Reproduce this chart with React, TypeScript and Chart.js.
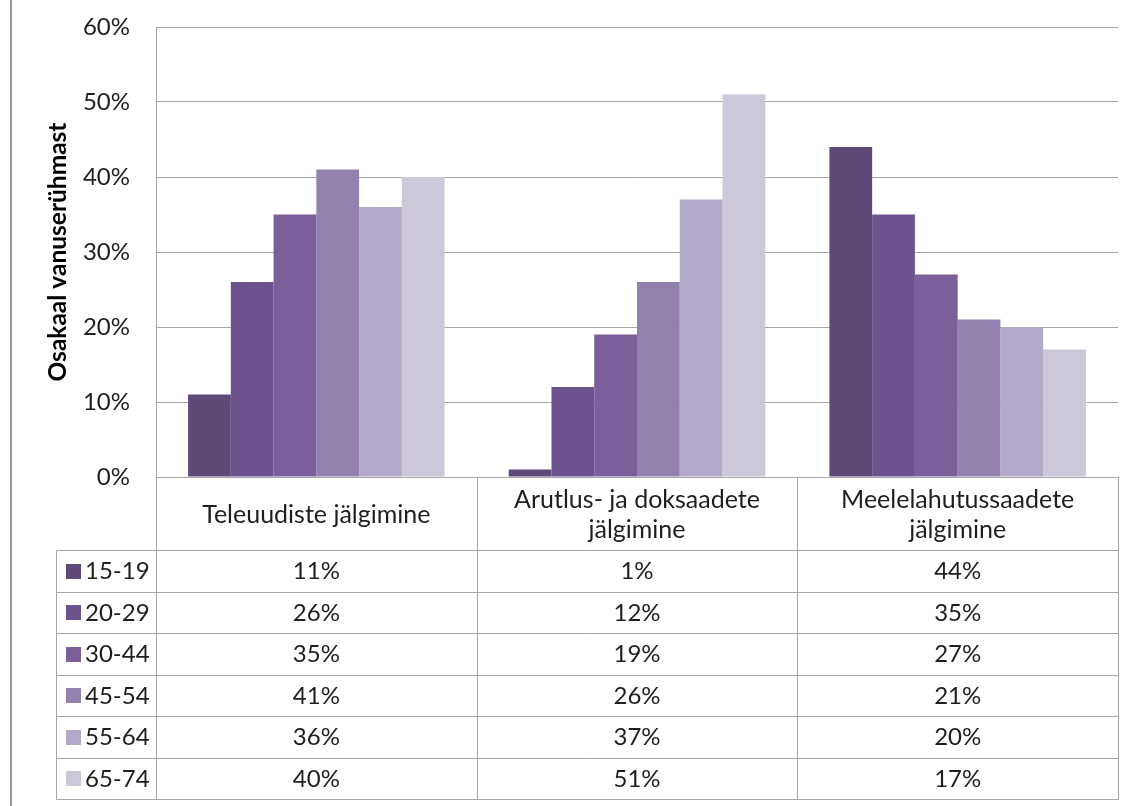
import React, { useEffect, useRef } from "react";
import { Chart, registerables } from "chart.js";

Chart.register(...registerables);

// ---- data ----
const categories: string[][] = [
  ["Teleuudiste jälgimine"],
  ["Arutlus- ja doksaadete", "jälgimine"],
  ["Meelelahutussaadete", "jälgimine"],
];
const ageGroups = ["15-19", "20-29", "30-44", "45-54", "55-64", "65-74"];
const values15to19 = [11, 1, 44];
const values20to29 = [26, 12, 35];
const values30to44 = [35, 19, 27];
const values45to54 = [41, 26, 21];
const values55to64 = [36, 37, 20];
const values65to74 = [40, 51, 17];
const seriesValues = [values15to19, values20to29, values30to44, values45to54, values55to64, values65to74];
const yMax = 60;
const yStep = 10;
const yTitle = "Osakaal vanuserühmast";

const colors = ["#5e4978", "#6c538e", "#7b5f9b", "#9382b0", "#b2a8c7", "#cdc7da"];

const FONT = "Lato, 'Noto Sans', sans-serif";
const TEXT = "#1e1e1e";
const LINE = "#a6a6a6";

const tablePlugin = {
  id: "dataTable",
  beforeDraw(chart: any) {
    const ctx = chart.ctx;
    ctx.save();
    ctx.fillStyle = "#ffffff";
    ctx.fillRect(0, 0, chart.width, chart.height);
    ctx.fillStyle = "#9a9a9a";
    ctx.fillRect(10, 0, 2, chart.height);
    ctx.restore();
  },
  afterDraw(chart: any) {
    const { ctx, chartArea } = chart;
    const x = chart.scales.x;
    const half = (x.getPixelForValue(1) - x.getPixelForValue(0)) / 2;
    const top = chartArea.bottom;
    const headerBottom = top + 73;
    const rowH = 41.5;
    const tableBottom = headerBottom + ageGroups.length * rowH;
    const legendLeft = 56;
    const right = chartArea.right;
    const px = (v: number) => Math.round(v) + 0.5;

    ctx.save();
    ctx.strokeStyle = LINE;
    ctx.lineWidth = 1;
    ctx.beginPath();
    for (let i = 0; i <= categories.length; i++) {
      const bx = px(x.getPixelForValue(i) - half);
      ctx.moveTo(bx, top);
      ctx.lineTo(bx, px(tableBottom));
    }
    for (let r = 0; r <= ageGroups.length; r++) {
      const ry = px(headerBottom + r * rowH);
      ctx.moveTo(legendLeft + 0.5, ry);
      ctx.lineTo(px(right), ry);
    }
    ctx.moveTo(legendLeft + 0.5, px(headerBottom));
    ctx.lineTo(legendLeft + 0.5, px(tableBottom));
    ctx.stroke();

    ctx.fillStyle = TEXT;
    ctx.font = `25px ${FONT}`;
    ctx.textAlign = "center";
    ctx.textBaseline = "middle";
    const headerMid = (top + headerBottom) / 2;
    categories.forEach((lines, i) => {
      const cx = x.getPixelForValue(i);
      const lh = 30;
      const y0 = headerMid - ((lines.length - 1) * lh) / 2;
      lines.forEach((t, k) => ctx.fillText(t, cx, y0 + k * lh + 1));
    });

    ctx.font = `24px ${FONT}`;
    ageGroups.forEach((g, r) => {
      const cy = headerBottom + r * rowH + rowH / 2;
      ctx.fillStyle = colors[r];
      ctx.fillRect(66, Math.round(cy - 7), 15, 15);
      ctx.fillStyle = TEXT;
      ctx.textAlign = "left";
      ctx.fillText(g, 85, cy + 1);
      ctx.textAlign = "center";
      seriesValues[r].forEach((v, i) => {
        ctx.fillText(v + "%", x.getPixelForValue(i), cy + 1);
      });
    });
    ctx.restore();
  },
};

export default function App() {
  const ref = useRef<HTMLCanvasElement>(null);
  useEffect(() => {
    if (!ref.current) return;
    const chart = new Chart(ref.current, {
      type: "bar",
      data: {
        labels: categories.map((c) => c.join(" ")),
        datasets: ageGroups.map((g, i) => ({
          label: g,
          data: seriesValues[i],
          backgroundColor: colors[i],
          borderWidth: 0,
          barPercentage: 1,
          categoryPercentage: 0.8,
        })),
      },
      options: {
        responsive: false,
        animation: false,
        devicePixelRatio: 1,
        layout: { padding: { left: 0, right: 17, top: 27, bottom: 0 } },
        plugins: { legend: { display: false }, tooltip: { enabled: false } },
        scales: {
          x: {
            grid: { display: false, drawTicks: false },
            border: { display: true, color: LINE },
            ticks: { display: false },
            afterFit: (s: any) => {
              s.height = 329;
            },
          },
          y: {
            min: 0,
            max: yMax,
            ticks: {
              stepSize: yStep,
              padding: 0,
              color: TEXT,
              font: { family: FONT, size: 24 },
              callback: (v: any) => v + "%",
            },
            grid: { color: LINE, drawTicks: true, tickLength: 26, tickColor: "rgba(0,0,0,0)" },
            border: { display: true, color: LINE },
            title: {
              display: true,
              text: yTitle,
              color: "#000",
              font: { family: FONT, size: 24.5, weight: "bold" },
              padding: { top: 43, bottom: 0 },
            },
            afterFit: (s: any) => {
              s.width = 156;
            },
          },
        },
      },
      plugins: [tablePlugin],
    });
    return () => chart.destroy();
  }, []);
  return (
    <div style={{ position: "absolute", left: 0, top: 0, width: 1135, height: 806 }}>
      <canvas ref={ref} width={1135} height={806} style={{ display: "block" }} />
    </div>
  );
}
